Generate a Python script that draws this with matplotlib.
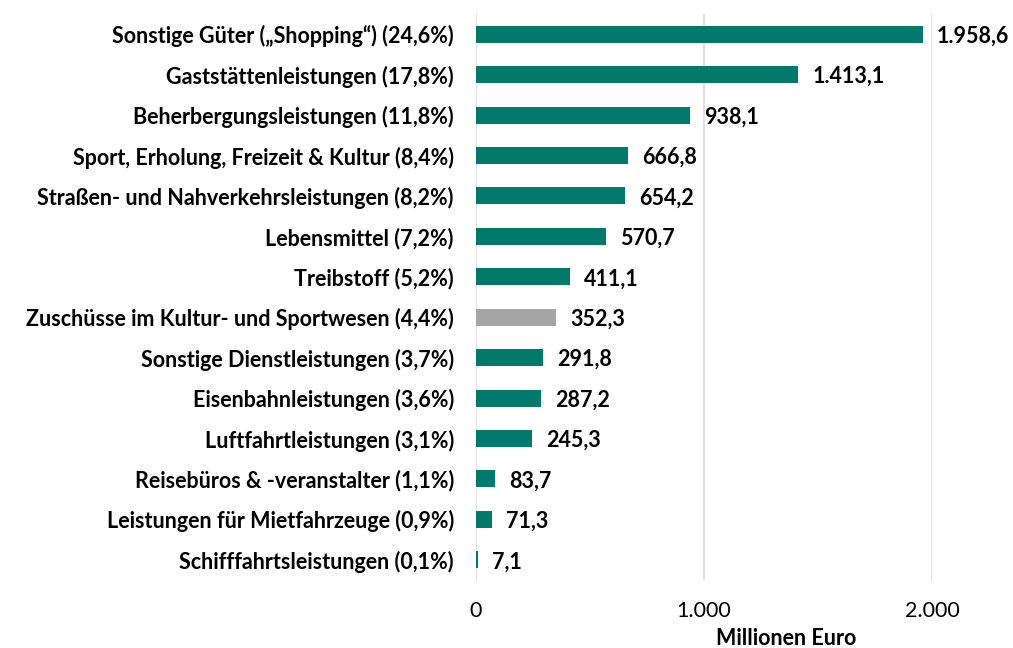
import matplotlib
matplotlib.use("Agg")
import matplotlib.pyplot as plt
from matplotlib.ticker import FixedLocator

categories = [
    "Sonstige Güter („Shopping“) (24,6%)",
    "Gaststättenleistungen (17,8%)",
    "Beherbergungsleistungen (11,8%)",
    "Sport, Erholung, Freizeit & Kultur (8,4%)",
    "Straßen- und Nahverkehrsleistungen (8,2%)",
    "Lebensmittel (7,2%)",
    "Treibstoff (5,2%)",
    "Zuschüsse im Kultur- und Sportwesen (4,4%)",
    "Sonstige Dienstleistungen (3,7%)",
    "Eisenbahnleistungen (3,6%)",
    "Luftfahrtleistungen (3,1%)",
    "Reisebüros & -veranstalter (1,1%)",
    "Leistungen für Mietfahrzeuge (0,9%)",
    "Schifffahrtsleistungen (0,1%)",
]
values = [1958.6, 1413.1, 938.1, 666.8, 654.2, 570.7, 411.1, 352.3,
          291.8, 287.2, 245.3, 83.7, 71.3, 7.1]
highlight = "Zuschüsse im Kultur- und Sportwesen (4,4%)"

TEAL = "#03796C"
GREY = "#A5A5A5"
FONT = ["Lato", "DejaVu Sans"]
FS = 15.5


def de_fmt(v, dec=1):
    s = f"{v:,.{dec}f}"
    return s.replace(",", "X").replace(".", ",").replace("X", ".")


fig = plt.figure(figsize=(10.13, 6.48), dpi=100)
ax = fig.add_axes([476 / 1013, 1 - 580 / 648, (932 - 476) / 1013, 566 / 648])

ypos = list(range(len(categories)))
colors = [GREY if c == highlight else TEAL for c in categories]
ax.barh(ypos, values, height=0.42, color=colors, zorder=3)

for y, v in zip(ypos, values):
    ax.text(v + 62, y + 0.05, de_fmt(v), va="center", ha="left", fontsize=FS,
            fontweight="bold", family=FONT, color="black")

ax.set_xlim(0, 2000)
ax.set_ylim(len(categories) - 0.5, -0.5)
ax.set_yticks(ypos)
ax.set_yticklabels(categories, fontsize=FS, fontweight="bold", family=FONT)
ax.xaxis.set_major_locator(FixedLocator([0, 1000, 2000]))
ax.set_xticklabels([de_fmt(t, 0) for t in [0, 1000, 2000]], fontsize=FS, family=FONT)
ax.tick_params(axis="both", length=0)
ax.tick_params(axis="y", pad=16)
ax.tick_params(axis="x", pad=15)
ax.grid(axis="x", color="#D9D9D9", linewidth=1.2, zorder=0)
for s in ["top", "right", "bottom", "left"]:
    ax.spines[s].set_visible(False)

# x-axis title sits right of centre, under the ticks
ax.set_xlabel("Millionen Euro", fontsize=FS, fontweight="bold", family=FONT)
ax.xaxis.set_label_coords((786 - 476) / 456, -(628 - 580) / 566)

fig.savefig("out.png", dpi=100)
